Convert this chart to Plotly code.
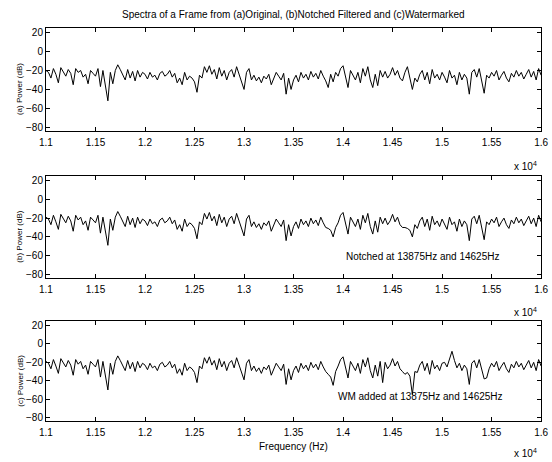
import numpy as np
import plotly.graph_objects as go

# Frequency bins (Hz), 25 Hz spacing from 11000 to 16000
f_start, f_step, n_bins = 11000, 25, 201
freq = f_start + f_step * np.arange(n_bins)

original = [
    -20, -22, -28, -18, -24, -33, -17, -21, -26, -19, -23, -35, -18, -22, -20, -27, -24, -34, -20, -23,
    -26, -18, -37, -20, -36, -52, -22, -34, -20, -14, -19, -25, -30, -19, -28, -21, -31, -20, -27, -22,
    -24, -29, -22, -27, -25, -30, -23, -21, -26, -24, -20, -27, -23, -33, -28, -35, -22, -30, -26, -28,
    -32, -43, -25, -28, -16, -22, -15, -24, -19, -29, -17, -26, -20, -30, -22, -19, -27, -16, -24, -32,
    -40, -22, -18, -30, -25, -31, -27, -33, -26, -29, -24, -35, -28, -22, -26, -30, -23, -45, -28, -40,
    -30, -25, -32, -22, -28, -24, -30, -21, -27, -23, -29, -20, -26, -31, -38, -24, -32, -22, -26, -18,
    -15, -28, -38, -20, -25, -30, -22, -33, -18, -26, -16, -30, -38, -24, -36, -20, -27, -21, -28, -24,
    -17, -25, -20, -28, -31, -22, -16, -30, -40, -28, -32, -24, -20, -30, -22, -34, -19, -28, -24, -30,
    -22, -27, -33, -20, -28, -25, -35, -22, -30, -24, -28, -45, -22, -19, -27, -18, -30, -44, -25, -28,
    -22, -26, -20, -30, -25, -21, -28, -32, -23, -27, -20, -26, -22, -29, -24, -19, -27, -21, -30, -18,
    -25,
]

notched = [
    -19, -21, -27, -17, -24, -32, -16, -21, -25, -18, -23, -34, -17, -22, -19, -27, -23, -33, -19, -22,
    -25, -17, -36, -19, -35, -49, -21, -33, -19, -13, -18, -24, -29, -18, -27, -20, -30, -19, -26, -21,
    -23, -28, -21, -26, -24, -29, -22, -20, -25, -23, -19, -26, -22, -32, -27, -34, -21, -29, -25, -27,
    -31, -42, -24, -27, -15, -21, -14, -23, -18, -28, -16, -25, -19, -29, -21, -18, -26, -15, -23, -31,
    -39, -21, -17, -29, -24, -30, -26, -32, -25, -28, -23, -34, -27, -21, -25, -29, -22, -44, -27, -39,
    -29, -24, -31, -21, -27, -23, -29, -20, -26, -22, -28, -19, -25, -30, -31, -33, -40, -30, -25, -17,
    -14, -27, -37, -19, -24, -29, -21, -32, -17, -25, -15, -29, -37, -23, -35, -19, -26, -20, -27, -23,
    -16, -24, -19, -27, -30, -30, -31, -33, -40, -27, -31, -23, -19, -29, -21, -33, -18, -27, -23, -29,
    -21, -26, -32, -19, -27, -24, -34, -21, -29, -23, -27, -44, -21, -18, -26, -17, -29, -43, -24, -27,
    -21, -25, -19, -29, -24, -20, -27, -31, -22, -26, -19, -25, -21, -28, -23, -18, -26, -20, -29, -17,
    -24,
]

watermarked = [
    -19, -21, -27, -17, -24, -32, -16, -21, -25, -18, -23, -34, -17, -22, -19, -27, -23, -33, -19, -22,
    -25, -17, -36, -19, -35, -50, -21, -33, -19, -13, -18, -24, -29, -18, -27, -20, -30, -19, -26, -21,
    -23, -28, -21, -26, -24, -29, -22, -20, -25, -23, -19, -26, -22, -32, -27, -34, -21, -29, -25, -27,
    -31, -42, -24, -27, -15, -21, -14, -23, -18, -28, -16, -25, -19, -29, -21, -18, -26, -15, -23, -31,
    -39, -21, -17, -29, -24, -30, -26, -32, -25, -28, -23, -34, -27, -21, -25, -29, -22, -44, -27, -39,
    -29, -24, -31, -21, -27, -23, -29, -20, -26, -22, -28, -19, -25, -30, -33, -36, -45, -30, -24, -17,
    -14, -27, -37, -19, -24, -29, -21, -32, -17, -25, -15, -29, -37, -23, -35, -19, -42, -20, -27, -23,
    -16, -24, -19, -27, -30, -33, -31, -35, -55, -30, -31, -23, -19, -29, -21, -33, -18, -27, -23, -29,
    -21, -20, -25, -15, -8, -18, -26, -21, -29, -23, -27, -44, -21, -18, -26, -17, -29, -38, -37, -27,
    -21, -25, -19, -29, -24, -20, -27, -31, -22, -26, -19, -25, -21, -28, -23, -18, -26, -20, -29, -17,
    -24,
]

series = [original, notched, watermarked]
ylabels = ["(a) Power (dB)", "(b) Power (dB)", "(c) Power (dB)"]
x_ticks = [11000, 11500, 12000, 12500, 13000, 13500, 14000, 14500, 15000, 15500, 16000]
x_ticklabels = ["1.1", "1.15", "1.2", "1.25", "1.3", "1.35", "1.4", "1.45", "1.5", "1.55", "1.6"]
y_ticks = [20, 0, -20, -40, -60, -80]
title_text = "Spectra of a Frame from (a)Original, (b)Notched Filtered and (c)Watermarked"
notes = ["", "Notched at 13875Hz and 14625Hz", "WM added at 13875Hz and 14625Hz"]
note_pos = [(None, None), (14800, -61), (14780, -57)]

W, H = 552, 462
left_px, right_px = 40, 548
panels_px = [(27, 131), (176, 279), (322, 423)]  # top, bottom
exp_y_px = [166, 313, 455]

fig = go.Figure()
font_main = dict(family="Liberation Sans, Arial, sans-serif", size=10, color="black")

def paper_note(xp, yp, text, **kw):
    fig.add_annotation(x=xp / W, y=1 - yp / H, xref="paper", yref="paper", text=text,
                       showarrow=False, yanchor=kw.pop("yanchor", "middle"),
                       xanchor=kw.pop("xanchor", "center"), **kw)

for k, ys in enumerate(series):
    i = k + 1
    xa = "x" if i == 1 else f"x{i}"
    ya = "y" if i == 1 else f"y{i}"
    fig.add_trace(go.Scatter(x=freq, y=ys, mode="lines", xaxis=xa, yaxis=ya,
                             line=dict(color="black", width=1), showlegend=False,
                             hoverinfo="skip"))
    top, bot = panels_px[k]
    common = dict(showline=True, linecolor="black", linewidth=1, mirror="ticks",
                  ticks="inside", ticklen=4, tickcolor="black", tickwidth=1,
                  showgrid=False, zeroline=False, tickfont=font_main,
                  ticklabeloverflow="allow")
    fig.layout[f"xaxis{i if i > 1 else ''}"] = dict(
        domain=[left_px / W, right_px / W], range=[11000, 16000],
        tickvals=x_ticks, ticktext=x_ticklabels, anchor=ya, ticklabelstandoff=2,
        **common)
    fig.layout[f"yaxis{i if i > 1 else ''}"] = dict(
        domain=[1 - bot / H, 1 - top / H], range=[-84, 25],
        tickvals=y_ticks, anchor=xa, **common)
    paper_note(13, (top + bot) / 2 + 10, ylabels[k], textangle=-90,
               font=dict(family="Liberation Sans, Arial, sans-serif", size=8, color="black"))
    paper_note(546, exp_y_px[k], "x 10<sup>4</sup>", xanchor="right", font=font_main)
    if notes[k]:
        fig.add_annotation(x=note_pos[k][0], y=note_pos[k][1], xref=xa, yref=ya,
                           text=notes[k], showarrow=False, font=font_main,
                           xanchor="center", yanchor="middle")

paper_note((left_px + right_px) / 2, 14, title_text, font=font_main)
paper_note((left_px + right_px) / 2, 448, "Frequency (Hz)", font=font_main)

fig.update_layout(width=W, height=H, margin=dict(l=0, r=0, t=0, b=0),
                  paper_bgcolor="white", plot_bgcolor="white")

fig.write_html("out.html", config={"displayModeBar": False},
               post_script="document.body.style.margin='0px';document.body.style.padding='0px';")
